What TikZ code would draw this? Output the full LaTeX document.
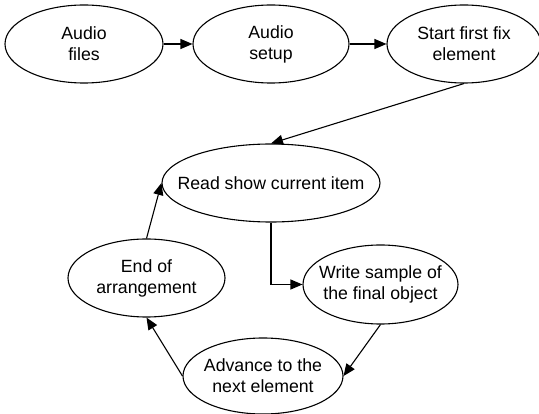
\documentclass[tikz,border=0pt]{standalone}
\usepackage{fontspec}
\setmainfont{Liberation Sans}
\usetikzlibrary{arrows.meta, shapes.geometric}
\tikzset{
  every picture/.style={line width=1.1pt},
  stage/.style={draw, ellipse, align=center, inner xsep=-20pt, inner ysep=2pt, minimum width=#1, minimum height=78pt, font=\fontsize{17.7}{21}\selectfont},
  stage/.default=156pt,
  arrow/.style={-{Triangle[length=12pt, width=10pt]}},
}

\begin{document}
\begin{tikzpicture}[x=1pt, y=-1pt]
  \useasboundingbox (0,0) rectangle (539,414);
  % top row
  \node[stage=158pt] (files) at (84,44) {Audio\\files};
  \node[stage=156pt] (setup) at (271,44) {Audio\\setup};
  \node[stage=154pt] (fix) at (464,44) {Start first fix\\element};
  \draw[arrow] (files) -- (setup);
  \draw[arrow] (setup) -- (fix);
  % loop
  \node[stage=218pt] (read) at (271,183) {Read show current item};
  \node[stage=155pt, minimum height=79pt] (write) at (380.5,284.5) {Write sample of\\the final object};
  \node[stage=160pt, minimum height=76pt] (adv) at (263,376) {Advance to the\\next element};
  \node[stage=157pt] (end) at (146.5,278) {End of\\arrangement};
  \draw[arrow] (fix.south) -- (read.north);
  \draw[arrow] (read.south) |- (write.west);
  \draw[arrow] (write.south) -- (adv.east);
  \draw[arrow] (adv.west) -- (end.south);
  \draw[arrow] (end.north) -- (read.west);
\end{tikzpicture}
\end{document}
